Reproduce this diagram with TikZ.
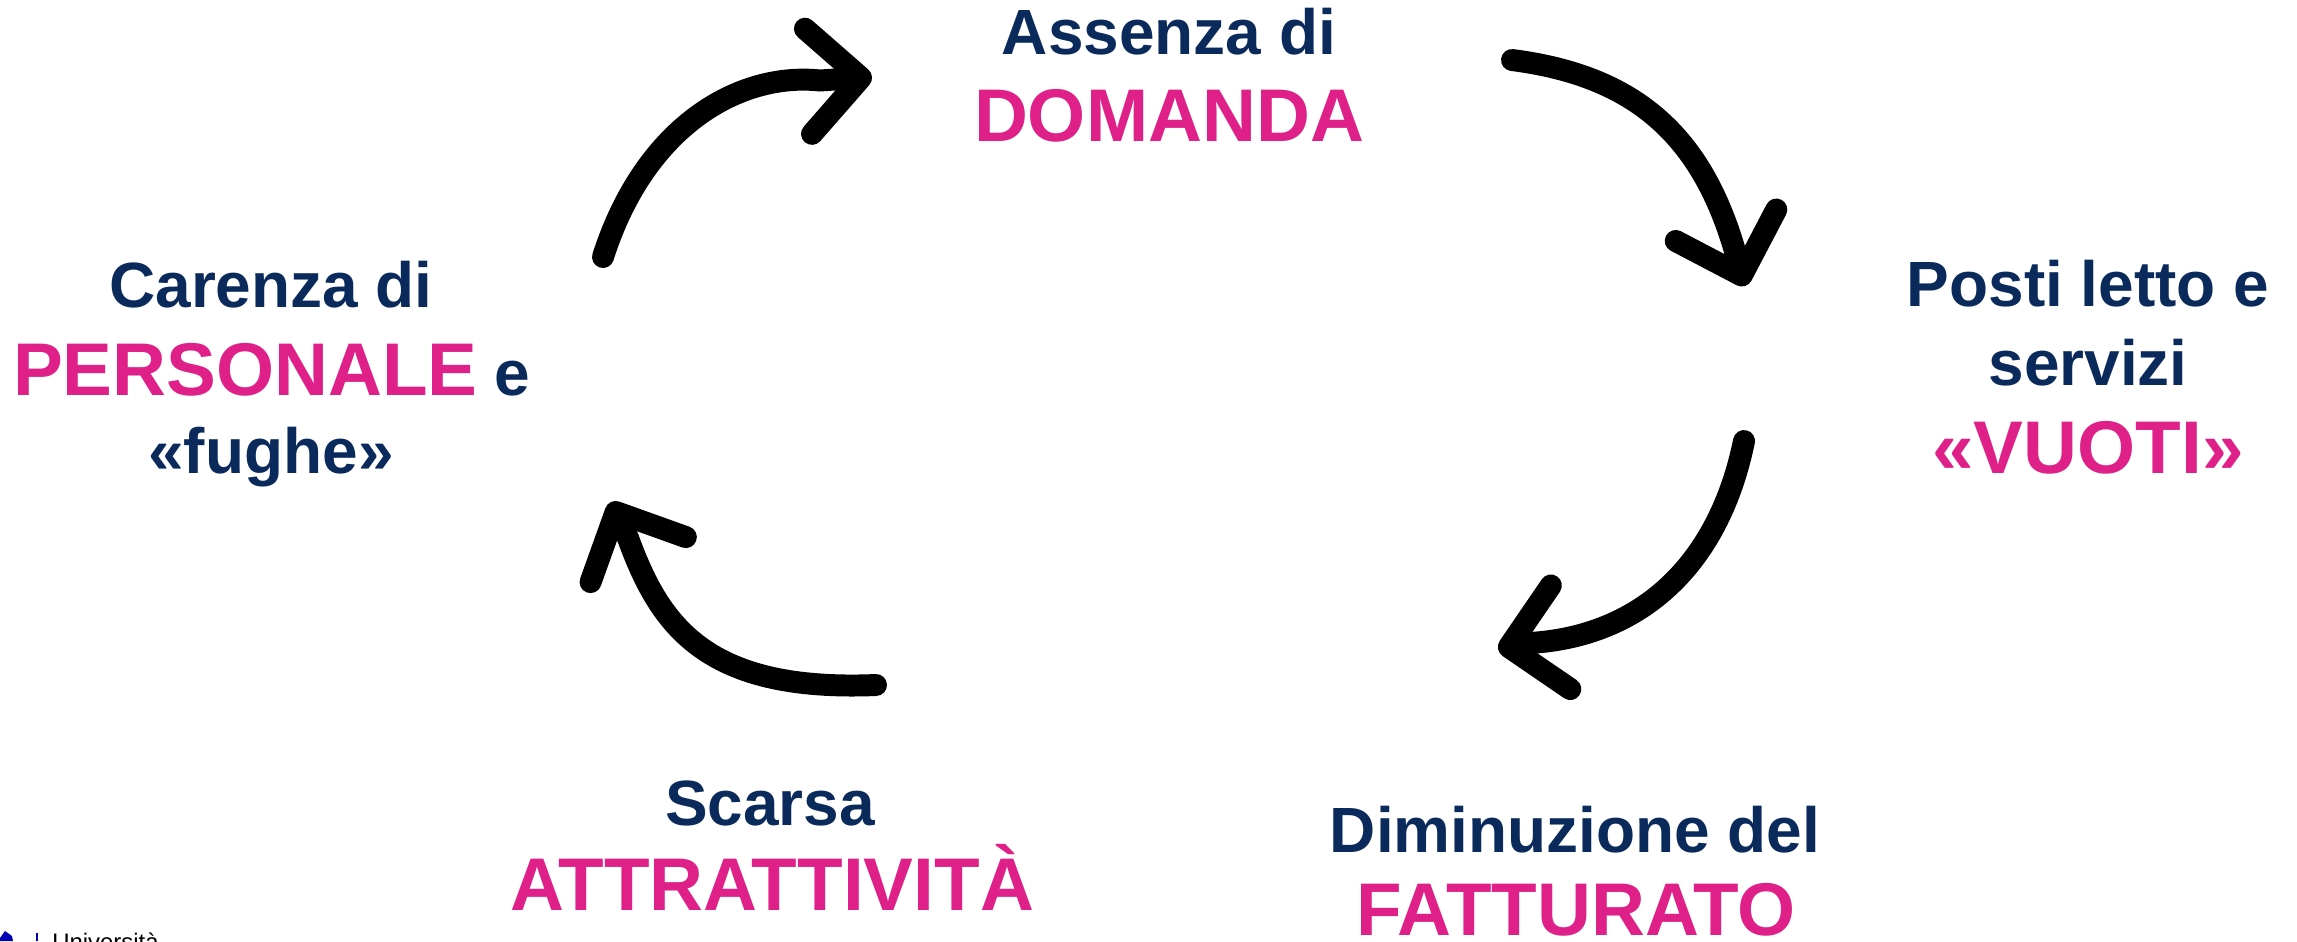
\documentclass[tikz,border=0pt]{standalone}
\usepackage{fontspec}
\setmainfont{Liberation Sans}
\usetikzlibrary{arrows.meta}
\definecolor{navy}{HTML}{0B2A5C}
\definecolor{hotpink}{HTML}{DE2088}
\tikzset{
 x=0.02cm,y=-0.02cm,
 lab/.style={inner sep=0,outer sep=0,anchor=base,font=\fontsize{36.4}{36}\selectfont\bfseries,text=navy},
 hot/.style={inner sep=0,outer sep=0,anchor=base,font=\fontsize{42.5}{42}\selectfont\bfseries,text=hotpink},
 flow/.style={line width=12.5pt,line cap=round,-{Straight Barb[length=30pt,width=60pt,round]}},
}
\begin{document}
\begin{tikzpicture}
\useasboundingbox (0,0) rectangle (2297,941);
\clip (0,0) rectangle (2297,941);
\node[lab] (a1) at (1169,54) {Assenza di};
\node[hot] (a2) at (1169,141) {DOMANDA};
\node[lab] (b1) at (2088,306) {Posti letto e};
\node[lab] (b2) at (2088,385) {servizi};
\node[hot] (b3) at (2088,473) {«VUOTI»};
\node[lab] (c1) at (1575,852) {Diminuzione del};
\node[hot] (c2) at (1576,935) {FATTURATO};
\node[lab] (d1) at (770,825) {Scarsa};
\node[hot] (d2) at (772,910) {ATTRATTIVITÀ};
\node[lab] (e1) at (271,307) {Carenza di};
\node[hot,anchor=base west] (e2) at (13,395) {PERSONALE};
\node[lab,anchor=base west] (e3) at (494,395) {e};
\node[lab] (e4) at (271,473) {«fughe»};
\coordinate (s1) at (603,257); \coordinate (p1) at (820,80.5); \coordinate (t1) at (872,77);
\coordinate (s2) at (1512,60); \coordinate (p2) at (1740,270); \coordinate (t2) at (1745,286);
\coordinate (s3) at (1744,441); \coordinate (p3) at (1530,643); \coordinate (t3) at (1498,649);
\coordinate (s4) at (876,685); \coordinate (p4) at (628,538); \coordinate (t4) at (611,502);
\draw[flow] (s1) .. controls (645,125) and (740,72) .. (p1) -- (t1);
\draw[flow] (s2) .. controls (1636,76) and (1707,136) .. (p2) -- (t2);
\draw[flow] (s3) .. controls (1719,563) and (1643,636) .. (p3) -- (t3);
\draw[flow] (s4) .. controls (706,692) and (660,626) .. (p4) -- (t4);
% cropped footer logo
\fill[blue!70!black] (0,938) -- (5,931) -- (12,936) -- (13,941) -- (0,941) -- cycle;
\fill[blue!70!black] (35.5,933) rectangle (37.5,941);
\node[inner sep=0,anchor=base west,font=\fontsize{13.6}{14}\selectfont,text=black] (f1) at (52,950) {Università};
\end{tikzpicture}
\end{document}
